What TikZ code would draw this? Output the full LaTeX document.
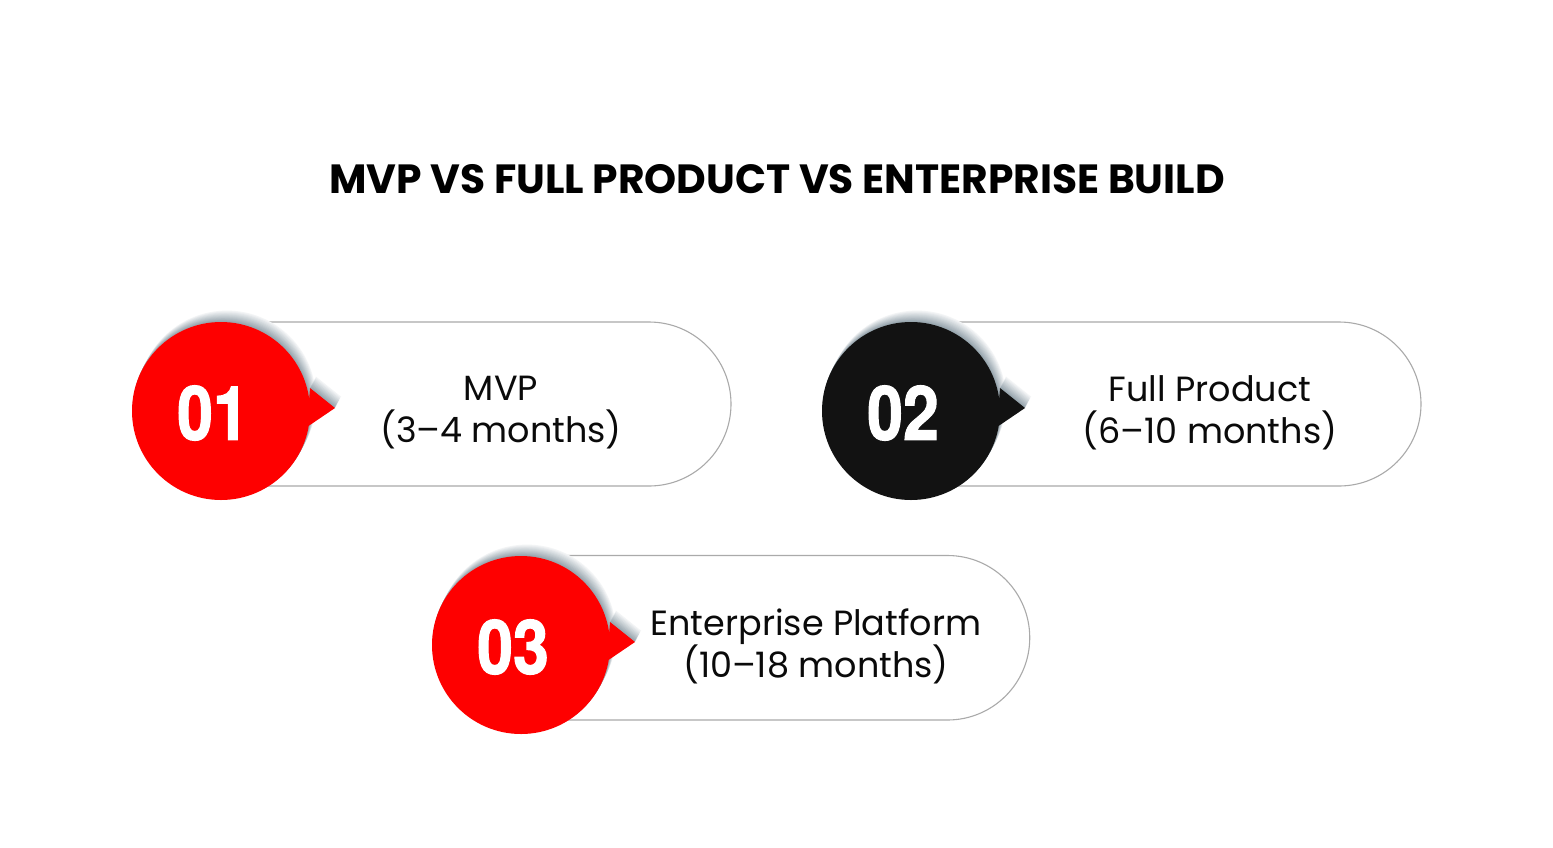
\documentclass[tikz,border=0pt]{standalone}
\usepackage{fontspec}
\usepackage{graphicx}
\setmainfont{Poppins}
\newfontfamily\numfont[FakeBold=1.6]{TeX Gyre Heros}
\definecolor{badgered}{RGB}{254,0,0}
\definecolor{badgeblack}{RGB}{18,18,18}
\definecolor{pillgray}{RGB}{170,170,170}
\definecolor{shadowc}{RGB}{105,125,138}
\definecolor{textblack}{RGB}{10,10,10}
\tikzset{
  pill/.style={draw=pillgray, line width=1.1pt, fill=white},
  badge/.style={circle, minimum size=178pt, inner sep=0pt, text=white,
    font=\numfont\bfseries\fontsize{75}{75}\selectfont},
  itemtext/.style={align=center, text=textblack, font=\fontsize{35}{42}\selectfont},
  titletext/.style={text=black, font=\bfseries\fontsize{40.8}{48}\selectfont}
}
\newcommand\badgeshape[1]{% drawn relative to badge centre
  \fill[#1] (0,0) circle (89) (89,-23) -- (114,-3) -- (86,16) -- cycle;}
\newcommand\badgeshadow{%
  \foreach \i in {12,11,...,1}{%
    \pgfmathtruncatemacro\shpct{8+5.5*(12-\i)}%
    \begin{scope}[shift={(0.5*\i,-0.95*\i)}]\badgeshape{shadowc!\shpct}\end{scope}}}
\begin{document}
\begin{tikzpicture}[x=1pt,y=-1pt]
\useasboundingbox (0,0) rectangle (1553,847);
\fill[white] (0,0) rectangle (1553,847);

\node[titletext] (title) at (777,179) {MVP VS FULL PRODUCT VS ENTERPRISE BUILD};

% pills
\draw[pill] (221,322) -- (649,322) arc[start angle=-90, end angle=90, radius=82] -- (221,486) -- cycle;
\draw[pill] (911,322) -- (1339,322) arc[start angle=-90, end angle=90, radius=82] -- (911,486) -- cycle;
\draw[pill] (520,555.5) -- (947.5,555.5) arc[start angle=-90, end angle=90, radius=82.25] -- (520,720) -- cycle;

% badge 1
\begin{scope}[shift={(221,411)}]
  \badgeshadow
  \badgeshape{badgered}
  \node[badge] (b1) at (-8,2) {\scalebox{0.86}[1]{01}};
\end{scope}
% badge 2
\begin{scope}[shift={(911,411)}]
  \badgeshadow
  \badgeshape{badgeblack}
  \node[badge] (b2) at (-8,2) {\scalebox{0.86}[1]{02}};
\end{scope}
% badge 3
\begin{scope}[shift={(521,645)}]
  \badgeshadow
  \badgeshape{badgered}
  \node[badge] (b3) at (-8,2) {\scalebox{0.86}[1]{03}};
\end{scope}

\node[itemtext] (t1) at (501,413) {MVP\\(3–4 months)};
\node[itemtext] (t2) at (1210,413) {Full Product\\(6–10 months)};
\node[itemtext] (t3) at (816,646) {Enterprise Platform\\(10–18 months)};
\end{tikzpicture}
\end{document}
